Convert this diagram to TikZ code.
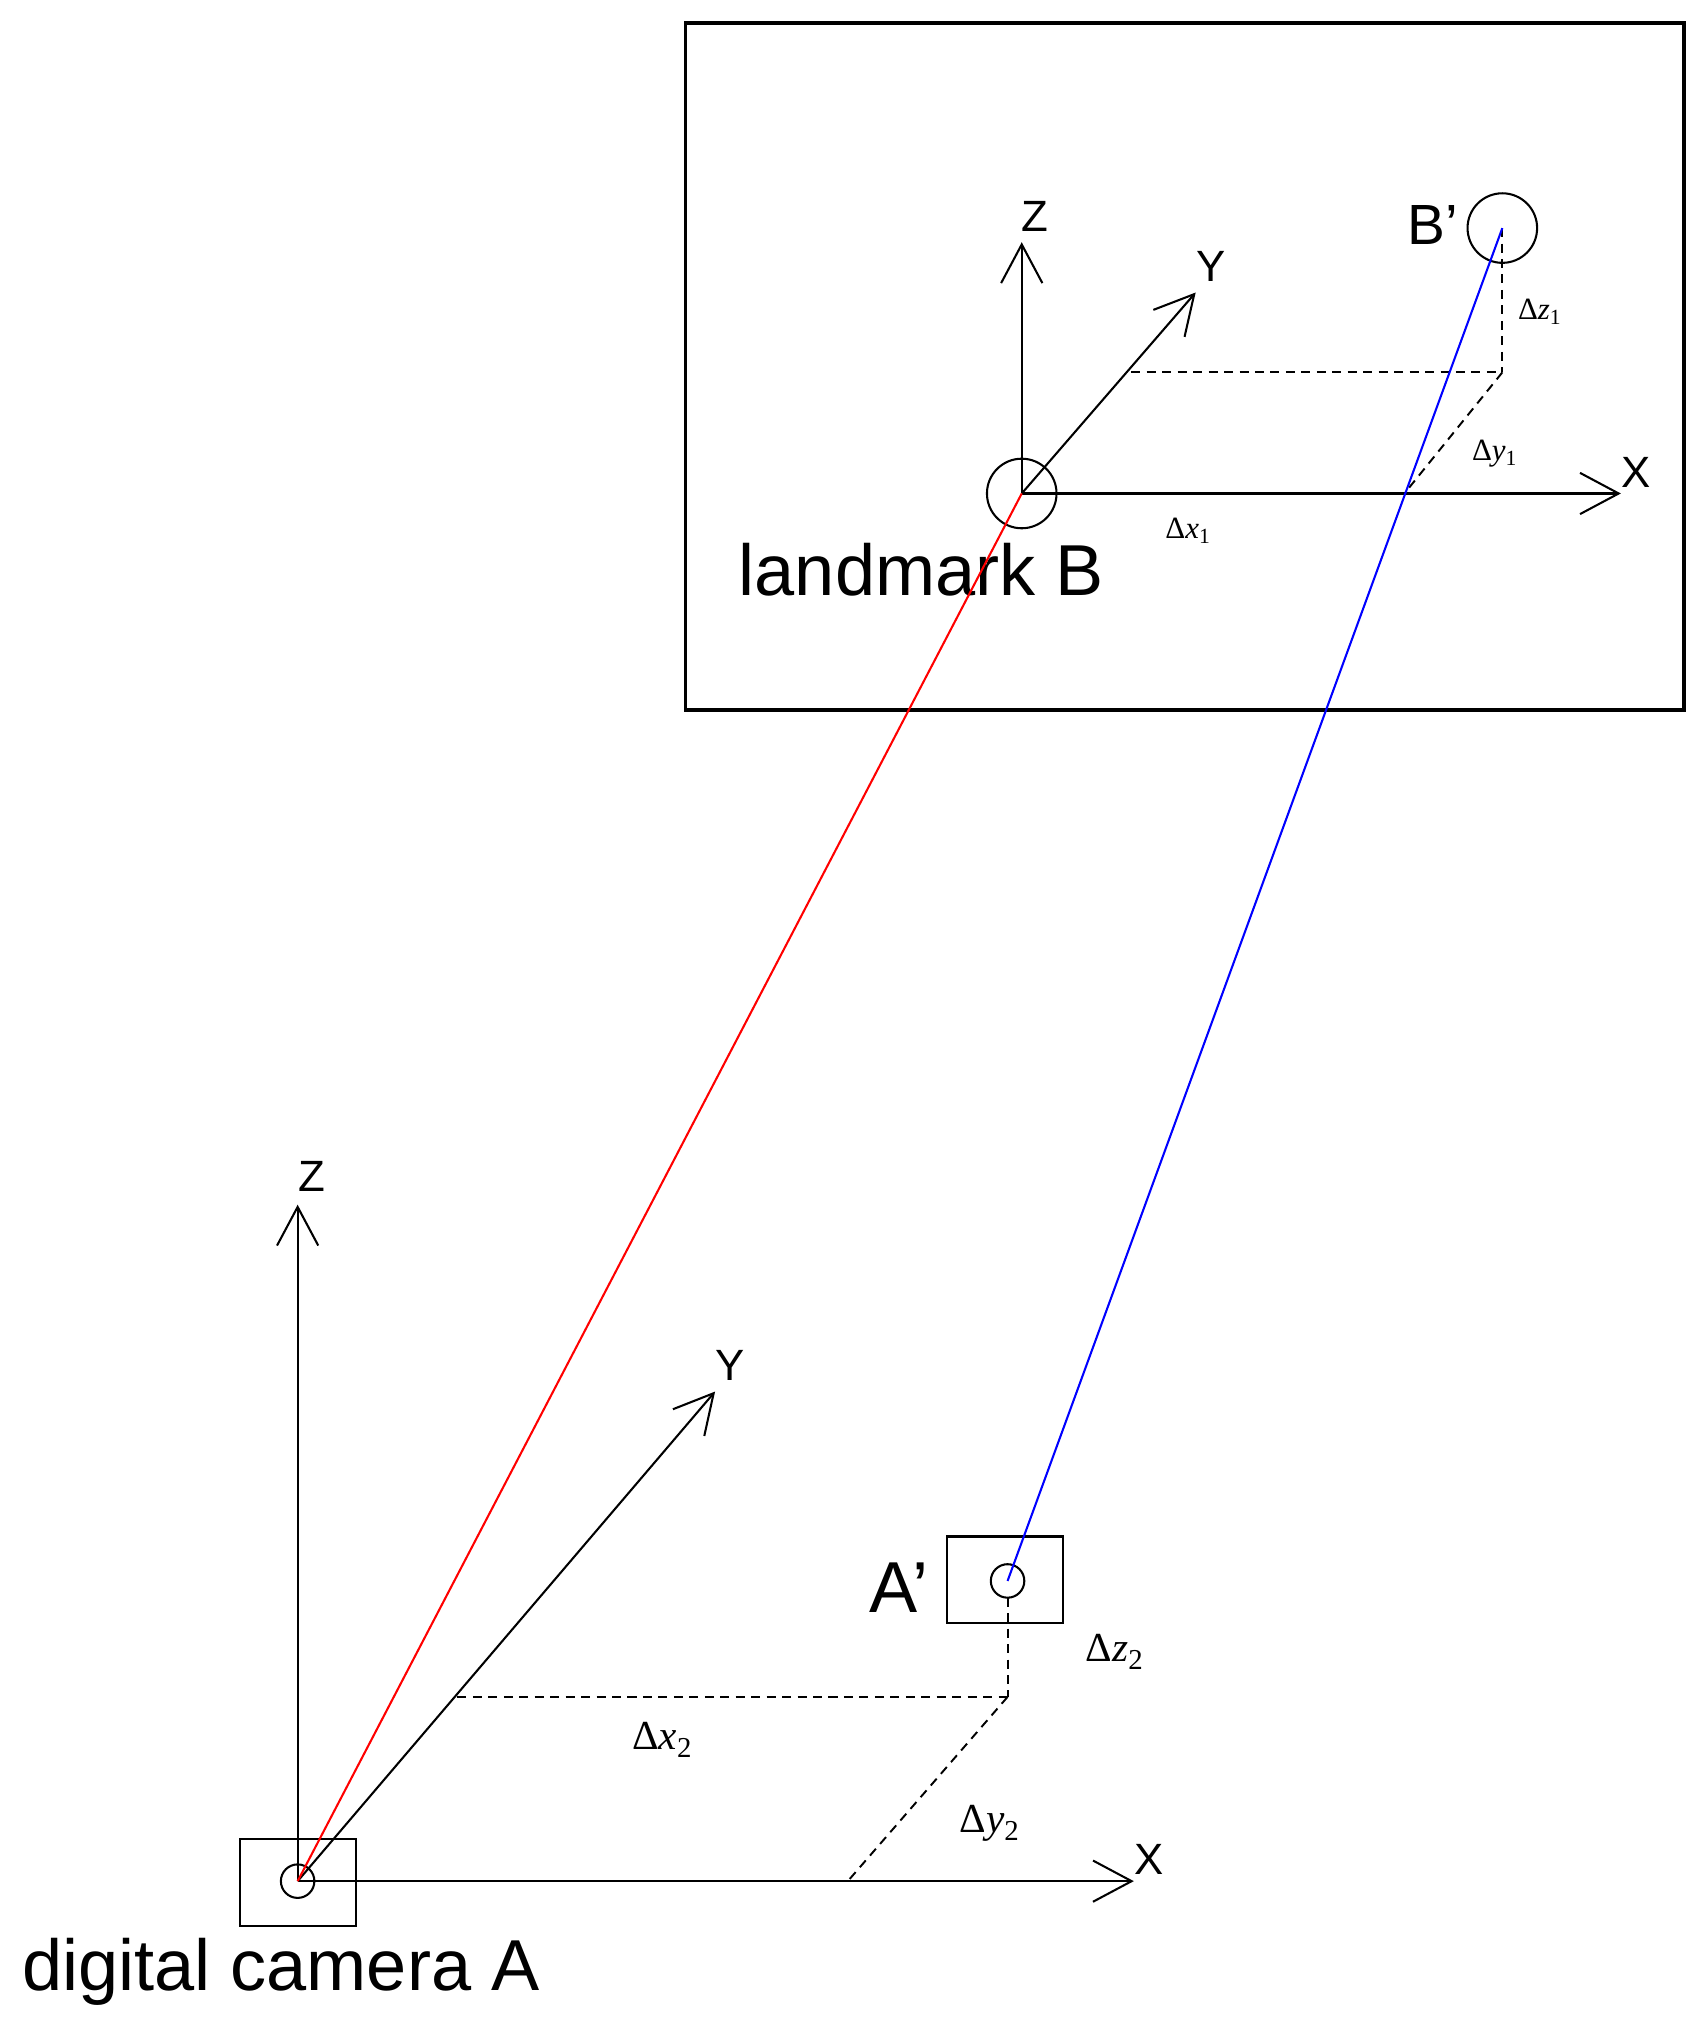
\documentclass[tikz,border=0pt]{standalone}
\usepackage{fontspec}
\setmainfont{Liberation Sans}
\newfontfamily\serf{Liberation Serif}
\usetikzlibrary{arrows.meta}
\newcommand{\dlt}[2]{{\serf Δ\textit{#1}\textsubscript{#2}}}
\begin{document}
\begin{tikzpicture}[x=1pt,y=-1pt,
 ax/.style={line width=1.6pt,-{Straight Barb[length=30pt,width=32pt,line width=1.6pt]}},
 dsh/.style={line width=1.5pt,dash pattern=on 7pt off 5pt},
 lab/.style={font=\fontsize{34}{36}\selectfont},
 big/.style={font=\fontsize{56}{60}\selectfont},
 dl/.style={font=\fontsize{24}{26}\selectfont},
 dl2/.style={font=\fontsize{32}{34}\selectfont}]
\useasboundingbox (0,0) rectangle (1320,1567);
% landmark frame
\draw[line width=3pt] (532,18) rectangle (1307,551);
\node[circle,draw,line width=1.6pt,minimum size=54pt,inner sep=0] (B) at (793,383) {};
\coordinate (Bo) at (793,383);
\coordinate (BZ) at (793,188); \coordinate (BY) at (928,227); \coordinate (BX) at (1258,383);
\draw[ax] (Bo)--(BZ); \draw[ax] (Bo)--(BY); \draw[ax] (Bo)--(BX);
\node[lab] at (803,168) {Z}; \node[lab] at (940,207) {Y}; \node[lab] at (1270,367) {X};
\node[circle,draw,line width=1.6pt,minimum size=54pt,inner sep=0] (Bp) at (1166,177) {};
\node[font=\fontsize{44}{48}\selectfont] (Bl) at (1112,175) {B\char"27};
\coordinate (Bc) at (1166,177); \coordinate (B1) at (1166,289); \coordinate (B2) at (878,289); \coordinate (B3) at (1090,383);
\draw[dsh] (Bc)--(B1); \draw[dsh] (B2)--(B1); \draw[dsh] (B1)--(B3);
\node[dl] at (1195,242) {\dlt{z}{1}}; \node[dl] at (1160,352) {\dlt{y}{1}}; \node[dl] at (922,412) {\dlt{x}{1}};
\node[big] (lB) at (715,442) {landmark B};
% camera
\node[draw,line width=1.6pt,minimum width=90pt,minimum height=67pt] (camA) at (231,1461) {};
\node[circle,draw,line width=1.6pt,minimum size=26pt,inner sep=0] (A) at (231,1460) {};
\coordinate (Ao) at (231,1460);
\coordinate (AZ) at (231,935); \coordinate (AY) at (555,1080); \coordinate (AX) at (880,1460);
\draw[ax] (Ao)--(AZ); \draw[ax] (Ao)--(AY); \draw[ax] (Ao)--(AX);
\node[lab] at (242,913) {Z}; \node[lab] at (567,1060) {Y}; \node[lab] at (892,1443) {X};
\node[draw,line width=1.6pt,minimum width=90pt,minimum height=67pt] (Apb) at (780,1226) {};
\node[circle,draw,line width=1.6pt,minimum size=26pt,inner sep=0] (Ap) at (782,1227) {};
\node[big] at (698,1232) {A\char"27};
\coordinate (A1) at (782,1240); \coordinate (A2) at (782,1317); \coordinate (A3) at (355,1317); \coordinate (A4) at (658,1460);
\draw[dsh] (A1)--(A2); \draw[dsh] (A3)--(A2); \draw[dsh] (A2)--(A4);
\node[dl2] at (865,1282) {\dlt{z}{2}};
\node[dl2] at (514,1350) {\dlt{x}{2}};
\node[dl2] at (768,1415) {\dlt{y}{2}};
\node[big] (lA) at (218,1530) {digital camera A};
% rays
\draw[red,line width=1.6pt] (Ao)--(Bo);
\draw[blue,line width=1.6pt] (Ap.center)--(Bc);
\end{tikzpicture}
\end{document}
